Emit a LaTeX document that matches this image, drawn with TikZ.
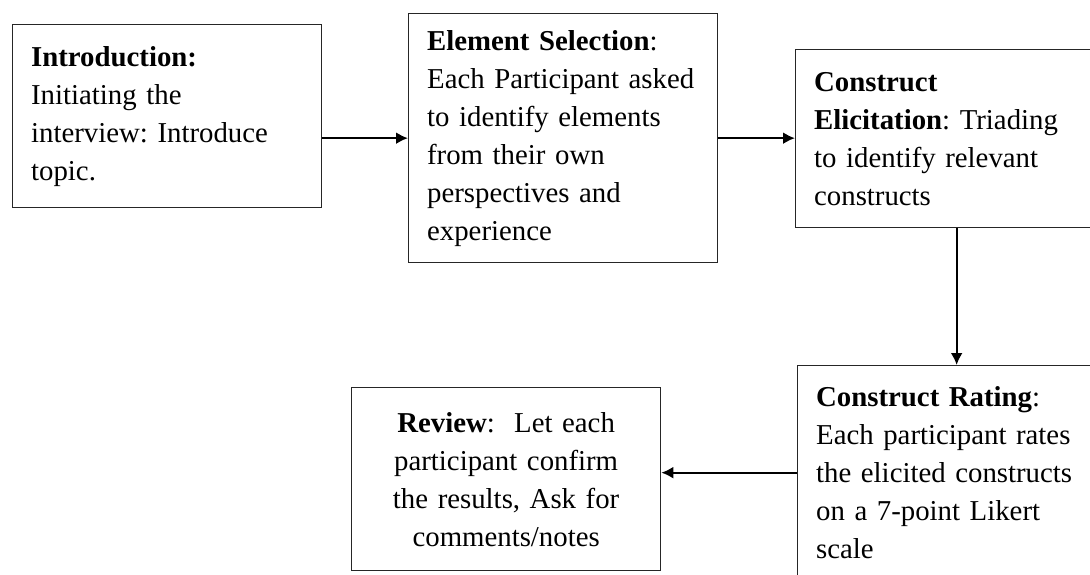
\documentclass[tikz,border=0pt]{standalone}
\usepackage{fontspec}
\setmainfont{Liberation Serif}
\usetikzlibrary{arrows.meta,positioning}

\tikzset{
  stage/.style={draw=black!85, line width=0.65pt, rectangle, inner xsep=9.25pt, inner ysep=0pt,
    align=left, anchor=north west, font=\fontsize{14.4}{19}\selectfont\frenchspacing},
  flow/.style={-{Latex[length=6pt,width=6pt]}, line width=1.1pt}
}

\begin{document}
\begin{tikzpicture}[x=0.5pt, y=-0.5pt]
  \useasboundingbox (0,0) rectangle (1090,574);
  \clip (0,0) rectangle (1090,574);
  \node[stage, text width=136pt, minimum height=91.5pt] (intro) at (12,24)
    {\textbf{Introduction:}\\Initiating the\\interview: Introduce\\topic.};
  \node[stage, text width=136pt, minimum height=124.5pt] (elem) at (408,13)
    {\textbf{Element Selection}:\\Each Participant asked\\to identify elements\\from their own\\perspectives and\\experience};
  \node[stage, text width=142.5pt, minimum height=89pt] (elic) at (795,49)
    {\textbf{Construct}\\\textbf{Elicitation}: Triading\\to identify relevant\\constructs};
  \node[stage, text width=140.5pt, minimum height=107pt] (rating) at (797,365)
    {\textbf{Construct Rating}:\\Each participant rates\\the elicited constructs\\on a 7-point Likert\\scale};
  \node[stage, text width=136pt, minimum height=91.5pt, align=center] (review) at (351,387)
    {\textbf{Review}:\ \ Let each\\participant confirm\\the results, Ask for\\comments/notes};
  \path[flow]
    (intro.east |- elem.west) edge (elem.west)
    (elem.east) edge (elem.east -| elic.west)
    (elic.south) edge (elic.south |- rating.north)
    (rating.west) edge (rating.west -| review.east);
\end{tikzpicture}
\end{document}
